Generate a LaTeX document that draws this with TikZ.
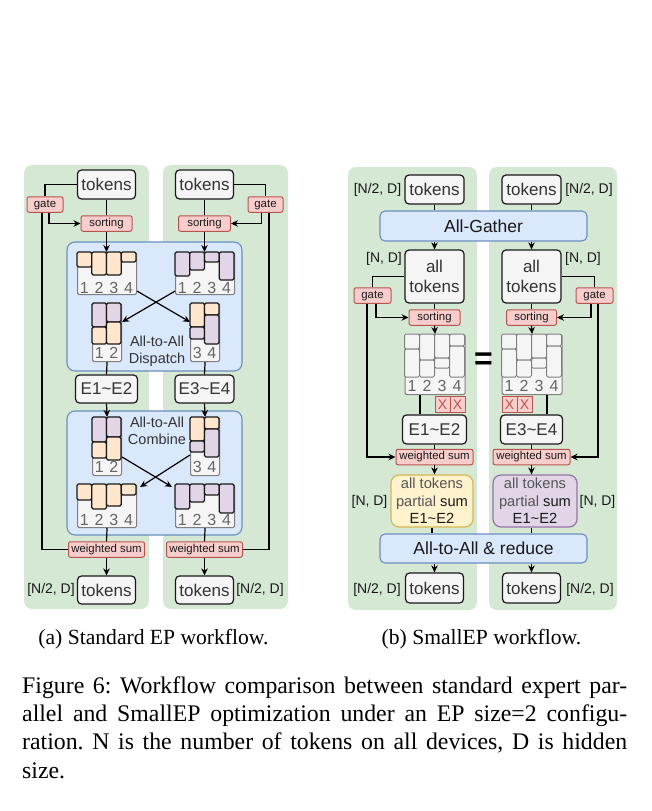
\documentclass[tikz,border=0pt]{standalone}
\usepackage{fontspec}
\setmainfont{Liberation Serif}
\newfontfamily\diagfont{Liberation Sans}
\usetikzlibrary{arrows.meta,calc}
\frenchspacing
\definecolor{pgreen}{HTML}{D5E8D4}
\definecolor{bfill}{HTML}{DAE8FC}
\definecolor{bline}{HTML}{6C8EBF}
\definecolor{rfill}{HTML}{F8CECC}
\definecolor{rline}{HTML}{B85450}
\definecolor{gfill}{HTML}{F5F5F5}
\definecolor{gline}{HTML}{808080}
\definecolor{ofill}{HTML}{FFE6CC}
\definecolor{pfill}{HTML}{E1D5E7}
\definecolor{pline}{HTML}{9673A6}
\definecolor{yfill}{HTML}{FFF2CC}
\definecolor{yline}{HTML}{D6B656}
\definecolor{txt}{HTML}{333333}
\definecolor{numc}{HTML}{666666}
\definecolor{lightt}{HTML}{555555}

\newcommand{\fourbars}[6]{%
  \begin{scope}[shift={(#1.north west)}]
    \draw[bar,fill=#2] (0,0) rectangle (14.75,#3);
    \draw[bar,fill=#2] (14.75,0) rectangle (29.5,#4);
    \draw[bar,fill=#2] (29.5,0) rectangle (44.25,#5);
    \draw[bar,fill=#2] (44.25,0) rectangle (59,#6);
  \end{scope}}
\newcommand{\fournums}[2]{%
  \begin{scope}[shift={(#1.north west)}]
    \foreach \d in {1,2,3,4} \node[num] (#1n\d) at ({(\d-0.5)*14.75},#2) {\d};
  \end{scope}}
\newcommand{\twonums}[4]{%
  \begin{scope}[shift={(#1.north west)}]
    \node[num] (#1na) at (7.25,#2) {#3};
    \node[num] (#1nb) at (21.75,#2) {#4};
  \end{scope}}
\newcommand{\cellgrid}[1]{%
  \begin{scope}[shift={(#1.north west)}]
    \draw[cell] (0,0) rectangle (15,15);
    \draw[cell] (0,15) rectangle (15,43);
    \draw[cell] (15,0) rectangle (30,26);
    \draw[cell] (15,26) rectangle (30,43);
    \draw[cell] (30,0) rectangle (45,24);
    \draw[cell] (30,24) rectangle (45,34);
    \draw[cell] (45,0) rectangle (60,12);
    \draw[cell] (45,12) rectangle (60,43);
    \foreach \d in {1,2,3,4} \node[num] (#1n\d) at ({(\d-0.5)*15},52) {\d};
  \end{scope}}

\begin{document}
\begin{tikzpicture}[x=1pt,y=-1pt,
  tok/.style={draw=black!90, fill=gfill, rounded corners=4pt, line width=1.2pt, text=txt,
    font=\diagfont\fontsize{17}{20}\selectfont, inner sep=0pt, minimum height=29pt, minimum width=58pt},
  redbox/.style={draw=rline, fill=rfill, rounded corners=2pt, line width=1pt, text=black!90,
    font=\diagfont\fontsize{11.4}{13}\selectfont, inner sep=0pt, minimum height=15.5pt},
  bluebox/.style={draw=bline, fill=bfill, rounded corners=8pt, line width=1.1pt, inner sep=0pt},
  lbl/.style={font=\diagfont\fontsize{14}{16}\selectfont, text=black!90, inner sep=0pt},
  inlbl/.style={font=\diagfont\fontsize{14.5}{17}\selectfont, text=txt, inner sep=0pt, align=center},
  conn/.style={line width=1.2pt, draw=black},
  arr/.style={conn, -{Stealth[length=7pt,width=6.5pt]}},
  gridbox/.style={draw=gline, fill=gfill, line width=1.1pt, rounded corners=1.5pt, inner sep=0pt, anchor=north west},
  bar/.style={draw=black!90, line width=1.1pt, rounded corners=1.5pt},
  cell/.style={draw=gline, fill=gfill, line width=1pt, rounded corners=1.5pt},
  num/.style={font=\diagfont\fontsize{16}{16}\selectfont, text=numc, inner sep=0pt},
  xbox/.style={draw=rline, fill=rfill, line width=1pt, inner sep=0pt, minimum width=15pt, minimum height=16pt,
    anchor=north west, text=rline, font=\diagfont\fontsize{14}{14}\selectfont},
  partbox/.style={rounded corners=8pt, line width=1.2pt, inner sep=0pt, minimum width=82pt, minimum height=52pt,
    align=center, font=\diagfont\fontsize{14.7}{17.5}\selectfont, text=black!90}
]
\useasboundingbox (0,0) rectangle (651,811);
\fill[white] (0,0) rectangle (651,811);

% ---------- green panels ----------
\fill[pgreen, rounded corners=8pt] (24,165) rectangle (149,609);
\fill[pgreen, rounded corners=8pt] (163,165) rectangle (288,609);
\fill[pgreen, rounded corners=8pt] (348,167) rectangle (477,610);
\fill[pgreen, rounded corners=8pt] (489,167) rectangle (617,610);

% ================= (a) Standard EP =================
\node[bluebox, minimum width=175pt, minimum height=129pt] (aD) at (154.5,306.5) {};
\node[bluebox, minimum width=175pt, minimum height=124pt] (aC) at (154.5,473) {};

\node[tok] (aT1) at (106.5,184.5) {tokens};
\node[tok] (aT2) at (204.5,184.5) {tokens};
\node[redbox, minimum width=36pt] (aG1) at (45,204.5) {gate};
\node[redbox, minimum width=35pt] (aG2) at (265.5,204.5) {gate};
\node[redbox, minimum width=51pt] (aS1) at (106.5,223.5) {sorting};
\node[redbox, minimum width=52pt] (aS2) at (204.5,223.5) {sorting};

% grids dispatch
\node[gridbox, minimum width=59pt, minimum height=42pt] (g1) at (77,252) {};
\fourbars{g1}{ofill}{15}{23}{23}{10}
\fournums{g1}{35.5}
\node[gridbox, minimum width=59pt, minimum height=42pt] (g2) at (175,252) {};
\fourbars{g2}{pfill}{24}{18}{10}{28}
\fournums{g2}{35.5}

\node[gridbox, minimum width=29pt, minimum height=58pt] (g3) at (92,303) {};
\begin{scope}[shift={(g3.north west)}]
  \draw[bar,fill=pfill] (0,0) rectangle (14.5,24);
  \draw[bar,fill=ofill] (0,24) rectangle (14.5,41);
  \draw[bar,fill=pfill] (14.5,0) rectangle (29,19);
  \draw[bar,fill=ofill] (14.5,19) rectangle (29,41);
\end{scope}
\twonums{g3}{49.5}{1}{2}
\node[gridbox, minimum width=29pt, minimum height=58pt] (g4) at (190,303) {};
\begin{scope}[shift={(g4.north west)}]
  \draw[bar,fill=ofill] (0,0) rectangle (14.5,24);
  \draw[bar,fill=pfill] (0,24) rectangle (14.5,36);
  \draw[bar,fill=ofill] (14.5,0) rectangle (29,12);
  \draw[bar,fill=pfill] (14.5,12) rectangle (29,41);
\end{scope}
\twonums{g4}{49.5}{3}{4}

\node[inlbl] (aDt) at (157,351.5) {All-to-All\\Dispatch};

\node[tok, minimum width=62pt, minimum height=28pt] (aE1) at (106.5,389) {E1\textasciitilde E2};
\node[tok, minimum width=59pt, minimum height=28pt] (aE2) at (204.5,389) {E3\textasciitilde E4};

% grids combine
\node[gridbox, minimum width=29pt, minimum height=58pt] (g5) at (92,417) {};
\begin{scope}[shift={(g5.north west)}]
  \draw[bar,fill=pfill] (0,0) rectangle (14.5,25);
  \draw[bar,fill=ofill] (0,25) rectangle (14.5,41);
  \draw[bar,fill=pfill] (14.5,0) rectangle (29,20);
  \draw[bar,fill=ofill] (14.5,20) rectangle (29,43);
\end{scope}
\twonums{g5}{49.5}{1}{2}
\node[gridbox, minimum width=29pt, minimum height=58pt] (g6) at (190,417) {};
\begin{scope}[shift={(g6.north west)}]
  \draw[bar,fill=ofill] (0,0) rectangle (14.5,24);
  \draw[bar,fill=pfill] (0,24) rectangle (14.5,35);
  \draw[bar,fill=ofill] (14.5,0) rectangle (29,12);
  \draw[bar,fill=pfill] (14.5,12) rectangle (29,40);
\end{scope}
\twonums{g6}{49.5}{3}{4}

\node[inlbl] (aCt) at (157,431) {All-to-All\\Combine};

\node[gridbox, minimum width=59pt, minimum height=43pt] (g7) at (77,484) {};
\fourbars{g7}{ofill}{16}{25}{22}{11}
\fournums{g7}{36}
\node[gridbox, minimum width=59pt, minimum height=43pt] (g8) at (175,484) {};
\fourbars{g8}{pfill}{25}{18}{11}{29}
\fournums{g8}{36}

\node[redbox, minimum width=76pt] (aW1) at (106.5,549.5) {weighted sum};
\node[redbox, minimum width=76pt] (aW2) at (204.5,549.5) {weighted sum};
\node[tok, minimum height=28pt] (aB1) at (106.5,590) {tokens};
\node[tok, minimum height=28pt] (aB2) at (204.5,590) {tokens};
\node[lbl] (aL1) at (51,590) {[N/2, D]};
\node[lbl] (aL2) at (260,590) {[N/2, D]};

% connectors (a)
\draw[conn] (aT1) -- (aS1);
\draw[conn] (aT2) -- (aS2);
\draw[arr] (aS1) -- (g1.north -| aS1);
\draw[arr] (aS2) -- (g2.north -| aS2);
\draw[conn] (aT1.west) -| (aG1.north);
\draw[conn] (aT2.east) -| (aG2.north);
\draw[arr] ($(aG1.south)+(4,0)$) |- (aS1.west);
\draw[arr] ($(aG2.south)+(-4,0)$) |- (aS2.east);
\draw[conn] ($(aG1.south)+(-3,0)$) |- (aW1.west);
\draw[conn] ($(aG2.south)+(3.5,0)$) |- (aW2.east);
\draw[arr] ($(g1.south east)+(0,-4)$) -- ($(g4.north west)+(0,19)$);
\draw[arr] ($(g2.south west)+(0,-4)$) -- ($(g3.north east)+(0,19)$);
\draw[conn] (g3.south) -- (aE1.north);
\draw[conn] (g4.south) -- (aE2.north);
\draw[arr] (aE1.south) -- (g5.north);
\draw[arr] (aE2.south) -- (g6.north);
\draw[arr] ($(g5.north east)+(0,40)$) -- ($(g8.north west)+(-3,3)$);
\draw[arr] ($(g6.north west)+(0,38)$) -- ($(g7.north east)+(3,3)$);
\draw[conn] (g7.south) -- (aW1.north);
\draw[conn] (g8.south) -- (aW2.north);
\draw[arr] (aW1) -- (aB1);
\draw[arr] (aW2) -- (aB2);

% ================= (b) SmallEP =================
\node[tok, minimum width=59pt] (bT1) at (434.5,189.5) {tokens};
\node[tok, minimum width=59pt] (bT2) at (531.5,189.5) {tokens};
\node[lbl] (bL1) at (377.5,190) {[N/2, D]};
\node[lbl] (bL2) at (589,190) {[N/2, D]};
\node[bluebox, rounded corners=5pt, minimum width=207pt, minimum height=30pt, text=black!90,
  font=\diagfont\fontsize{17.5}{20}\selectfont] (bAG) at (483.5,226) {All-Gather};
\node[tok, minimum width=59pt, minimum height=53pt, align=center] (bA1) at (434.5,276.5) {all\\tokens};
\node[tok, minimum width=59pt, minimum height=53pt, align=center] (bA2) at (531.5,276.5) {all\\tokens};
\node[lbl] (bN1) at (384,259) {[N, D]};
\node[lbl] (bN2) at (583,259) {[N, D]};
\node[redbox, minimum width=37pt] (bG1) at (372.5,295.5) {gate};
\node[redbox, minimum width=37pt] (bG2) at (594.5,295.5) {gate};
\node[redbox, minimum width=51pt] (bS1) at (434.5,317.5) {sorting};
\node[redbox, minimum width=50pt] (bS2) at (531.5,317.5) {sorting};

\node[gridbox, minimum width=60pt, minimum height=60pt] (r1) at (404.5,334) {};
\cellgrid{r1}
\node[gridbox, minimum width=60pt, minimum height=60pt] (r2) at (501.5,334) {};
\cellgrid{r2}
\node[font=\diagfont\bfseries\fontsize{32}{32}\selectfont, inner sep=0pt] (eq) at (483.5,361) {=};

\node[xbox] (x1a) at ($(r1.south west)+(30,1)$) {X};
\node[xbox] (x1b) at ($(r1.south west)+(45,1)$) {X};
\node[xbox] (x2a) at ($(r2.south west)+(0,1)$) {X};
\node[xbox] (x2b) at ($(r2.south west)+(15,1)$) {X};

\node[tok, minimum width=64pt] (bE1) at (434.5,429.5) {E1\textasciitilde E2};
\node[tok, minimum width=62pt] (bE2) at (531.5,429.5) {E3\textasciitilde E4};
\node[redbox, minimum width=77pt] (bW1) at (434.5,457) {weighted sum};
\node[redbox, minimum width=77pt] (bW2) at (531.5,457) {weighted sum};

\node[partbox, draw=yline, fill=yfill] (bP1) at (432,501)
  {\textcolor{lightt}{all tokens}\\\textcolor{lightt}{partial} sum\\E1\textasciitilde E2};
\node[partbox, draw=pline, fill=pfill, minimum width=84pt] (bP2) at (535,501)
  {\textcolor{lightt}{all tokens}\\\textcolor{lightt}{partial} sum\\E1\textasciitilde E2};
\node[lbl] (bM1) at (369.5,502) {[N, D]};
\node[lbl] (bM2) at (597.5,502) {[N, D]};

\node[bluebox, rounded corners=5pt, minimum width=207pt, minimum height=29pt, text=black!90,
  font=\diagfont\fontsize{17.5}{20}\selectfont] (bR) at (483.5,548.5) {All-to-All \& reduce};
\node[tok, minimum height=30pt] (bB1) at (434.5,588) {tokens};
\node[tok, minimum height=30pt] (bB2) at (531.5,588) {tokens};
\node[lbl] (bL3) at (377,590) {[N/2, D]};
\node[lbl] (bL4) at (590,590) {[N/2, D]};

% connectors (b)
\draw[conn] (bT1.south) -- (bT1.south |- bAG.north);
\draw[conn] (bT2.south) -- (bT2.south |- bAG.north);
\draw[arr] (bAG.south -| bA1) -- (bA1.north);
\draw[arr] (bAG.south -| bA2) -- (bA2.north);
\draw[conn] (bA1) -- (bS1);
\draw[conn] (bA2) -- (bS2);
\draw[arr] (bS1.south) -- (r1.north);
\draw[arr] (bS2.south) -- (r2.north);
\draw[conn] (bA1.west) -| (bG1.north);
\draw[conn] (bA2.east) -| (bG2.north);
\draw[arr] ($(bG1.south)+(3.5,0)$) |- (bS1.west);
\draw[arr] ($(bG2.south)+(-3.5,0)$) |- (bS2.east);
\draw[arr] ($(bG1.south)+(-5.5,0)$) |- (bW1.west);
\draw[arr] ($(bG2.south)+(3.5,0)$) |- (bW2.east);
\draw[conn] ($(r1.south)+(-15,0)$) coordinate (r1o) -- (r1o |- bE1.north);
\draw[conn] ($(r2.south)+(15,0)$) coordinate (r2o) -- (r2o |- bE2.north);
\draw[conn] (bE1) -- (bW1);
\draw[conn] (bE2) -- (bW2);
\draw[arr] (bW1.south) -- (bW1.south |- bP1.north);
\draw[arr] (bW2.south) -- (bW2.south |- bP2.north);
\draw[conn] (bP1.south) -- (bP1.south |- bR.north);
\draw[conn] (bP2.south -| bW2) -- (bR.north -| bW2);
\draw[arr] (bR.south -| bB1) -- (bB1.north);
\draw[arr] (bR.south -| bB2) -- (bB2.north);

% ================= captions =================
\node[font=\fontsize{21.6}{26}\selectfont, anchor=base, inner sep=0pt] (capa) at (153.5,644) {(a) Standard EP workflow.};
\node[font=\fontsize{21.6}{26}\selectfont, anchor=base, inner sep=0pt] (capb) at (481.5,644) {(b) SmallEP workflow.};
\begin{scope}[every node/.style={font=\fontsize{23.8}{28.4}\selectfont, anchor=base west, inner sep=0pt}]
\node (cap1) at (22,693) {\makebox[605pt][s]{Figure 6: Workflow comparison between standard expert par-}};
\node (cap2) at (22,721.4) {\makebox[605pt][s]{allel and SmallEP optimization under an EP size=2 configu-}};
\node (cap3) at (22,749.8) {\makebox[605pt][s]{ration. N is the number of tokens on all devices, D is hidden}};
\node (cap4) at (22,778.2) {size.};
\end{scope}
\end{tikzpicture}
\end{document}
